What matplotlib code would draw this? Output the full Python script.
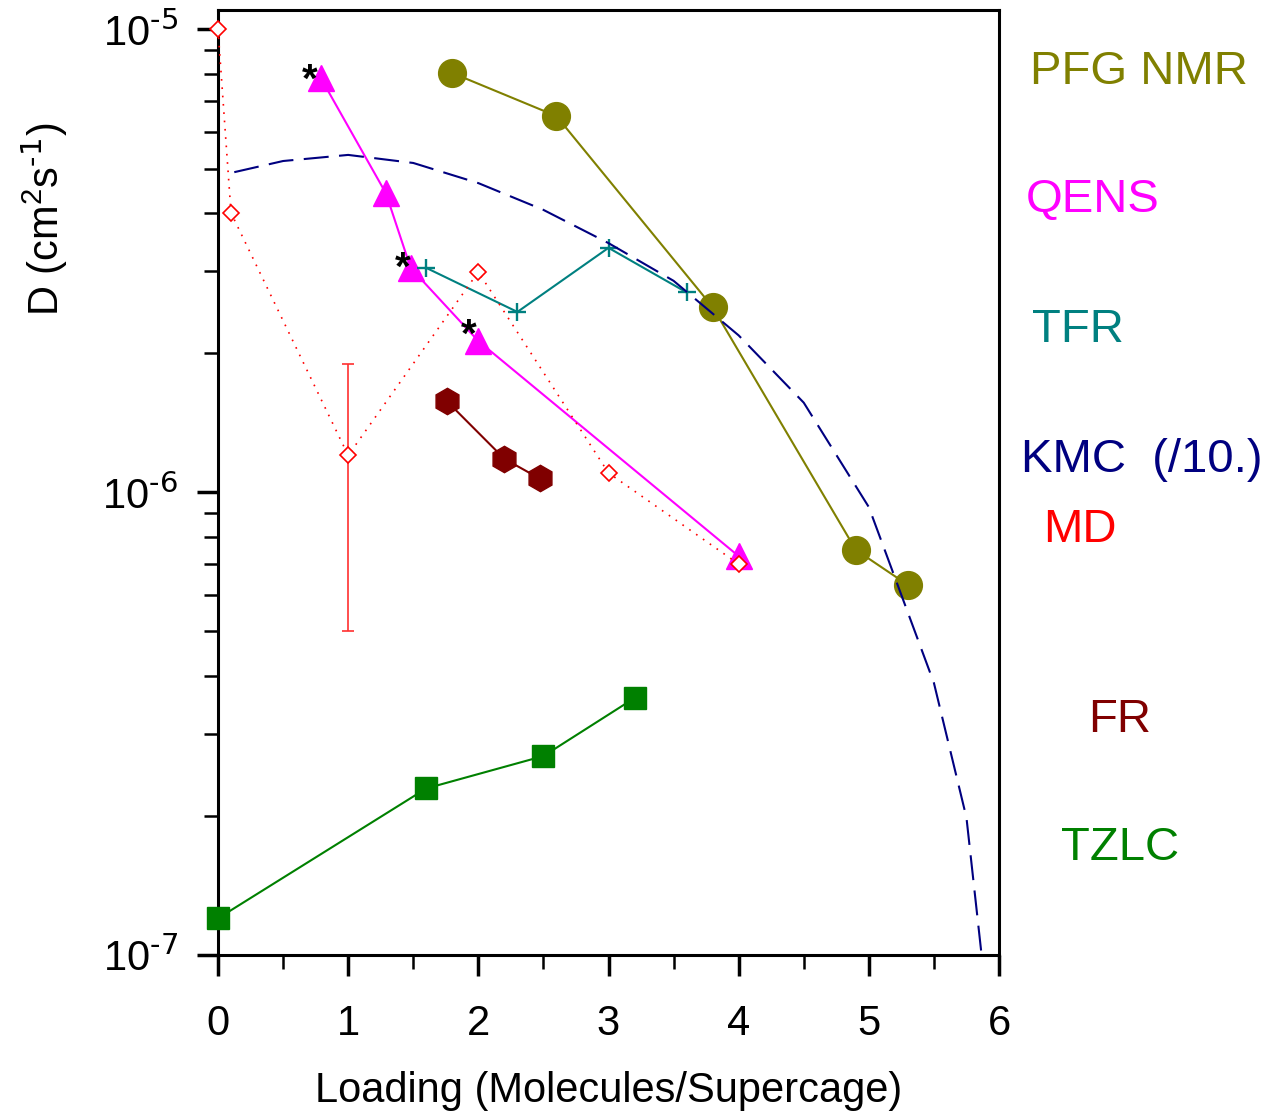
import matplotlib
matplotlib.use("Agg")
from matplotlib import pyplot as plt
from matplotlib.ticker import LogLocator, NullFormatter, FuncFormatter
import math

plt.rcParams["font.family"] = ["Liberation Sans", "DejaVu Sans"]
plt.rcParams["mathtext.default"] = "regular"
plt.rcParams["axes.unicode_minus"] = False

# PFG NMR
pfg_x = [1.8, 2.6, 3.8, 4.9, 5.3]
pfg_d = [8.04e-6, 6.49e-6, 2.51e-6, 7.5e-7, 6.3e-7]

# QENS (points marked with * get a star)
qens_x = [0.79, 1.29, 1.48, 2.0, 4.0]
qens_d = [7.84e-6, 4.42e-6, 3.05e-6, 2.12e-6, 7.27e-7]
qens_star = [0, 2, 3]
star_offsets = [(-8, -10), (-6, -8.5), (-7, -4)]

# TFR
tfr_x = [1.6, 2.3, 3.0, 3.6]
tfr_d = [3.05e-6, 2.45e-6, 3.37e-6, 2.70e-6]

# KMC (/10.)
kmc_x = [0.125, 0.5, 1.0, 1.5, 2.0, 2.5, 3.0, 3.5, 4.0, 4.5, 5.0, 5.5, 5.75, 5.875]
kmc_d = [4.91e-6, 5.19e-6, 5.35e-6, 5.14e-6, 4.65e-6, 4.07e-6, 3.45e-6,
         2.86e-6, 2.18e-6, 1.56e-6, 9.28e-7, 3.87e-7, 1.98e-7, 9.5e-8]

# MD
md_x = [0.0, 0.1, 1.0, 2.0, 3.0, 4.0]
md_d = [1.0e-5, 4.01e-6, 1.2e-6, 2.99e-6, 1.1e-6, 6.99e-7]
md_err_x = 1.0
md_err_d = 1.2e-6
md_err_lo = 5.0e-7
md_err_hi = 1.89e-6

# FR
fr_x = [1.76, 2.2, 2.47]
fr_d = [1.57e-6, 1.18e-6, 1.07e-6]

# TZLC
tzlc_x = [0.0, 1.6, 2.5, 3.2]
tzlc_d = [1.2e-7, 2.29e-7, 2.69e-7, 3.59e-7]

# right-hand labels: text, colour, centre in pixels of the 1271x1115 figure
labels = [
    ("PFG NMR", "#808000", 1139, 72),
    ("QENS", "#ff00ff", 1093, 200),
    ("TFR", "#008080", 1078, 330),
    ("KMC  (/10.)", "#000080", 1142, 460),
    ("MD", "#ff0000", 1080, 530),
    ("FR", "#800000", 1120, 720),
    ("TZLC", "#008000", 1120, 848),
]


def pow10_label(v, pos):
    e = int(round(math.log10(v)))
    return "$10^{\\text{%d}}$" % e


W, H = 1271, 1115
fig = plt.figure(figsize=(W / 100, H / 100), dpi=100)
ax = fig.add_axes([218 / W, 1 - 955 / H, 781 / W, 945 / H])
ax.set_yscale("log")

ax.plot(pfg_x, pfg_d, color="#808000", lw=1.5, marker="o", ms=20,
        zorder=3, clip_on=False)
ax.plot(qens_x, qens_d, color="#ff00ff", lw=1.5, marker="^", ms=19,
        zorder=3, clip_on=False)
for i, off in zip(qens_star, star_offsets):
    ax.annotate("*", (qens_x[i], qens_d[i]), xytext=off,
                textcoords="offset points", ha="center", va="baseline",
                fontsize=29, fontweight="bold", color="black")
ax.plot(tfr_x, tfr_d, color="#008080", lw=1.5, marker="+", ms=13, mew=1.7,
        zorder=3, clip_on=False)
ax.plot(md_x, md_d, color="#ff0000", lw=1.2, ls=(0, (1, 4)), marker="D",
        ms=8.5, mfc="white", mec="#ff0000", mew=1.2, zorder=4, clip_on=False)
ax.errorbar([md_err_x], [md_err_d],
            yerr=[[md_err_d - md_err_lo], [md_err_hi - md_err_d]],
            fmt="none", ecolor="#ff3030", elinewidth=1.2, capsize=4.5,
            capthick=1.2, zorder=3)
ax.plot(fr_x, fr_d, color="#800000", lw=1.5, marker="h", ms=19,
        zorder=3, clip_on=False)
ax.plot(tzlc_x, tzlc_d, color="#008000", lw=1.5, marker="s", ms=16,
        zorder=3, clip_on=False)
ax.plot(kmc_x, kmc_d, color="#000080", lw=1.5, ls=(0, (12, 5)), zorder=5)

ax.set_xlim(0, 6)
ax.set_ylim(1e-7, 1.1e-5)
ax.set_xticks(range(7))
ax.set_xticks([0.5 + i for i in range(6)], minor=True)
ax.yaxis.set_major_locator(LogLocator(base=10, numticks=10))
ax.yaxis.set_major_formatter(FuncFormatter(pow10_label))
ax.yaxis.set_minor_locator(LogLocator(base=10, subs=range(2, 10), numticks=20))
ax.yaxis.set_minor_formatter(NullFormatter())

for s in ax.spines.values():
    s.set_linewidth(2.2)
ax.tick_params(which="major", direction="out", length=15, width=2.5,
               labelsize=30)
ax.tick_params(axis="x", which="major", pad=20)
ax.tick_params(axis="y", which="major", pad=14)
ax.tick_params(which="minor", direction="out", length=10, width=1.8)

ax.set_xlabel("Loading (Molecules/Supercage)", fontsize=30)
ax.xaxis.set_label_coords(0.5, -0.123)
ax.set_ylabel("D (cm$^2$s$^{\\text{-1}}$)", fontsize=30)
ax.yaxis.label.set_va("center")
ax.yaxis.set_label_coords(-0.2215, 0.778)

for text, color, px, py in labels:
    fig.text(px / W, 1 - py / H, text, color=color, fontsize=34,
             ha="center", va="center")

fig.savefig("out.png", dpi=100)
